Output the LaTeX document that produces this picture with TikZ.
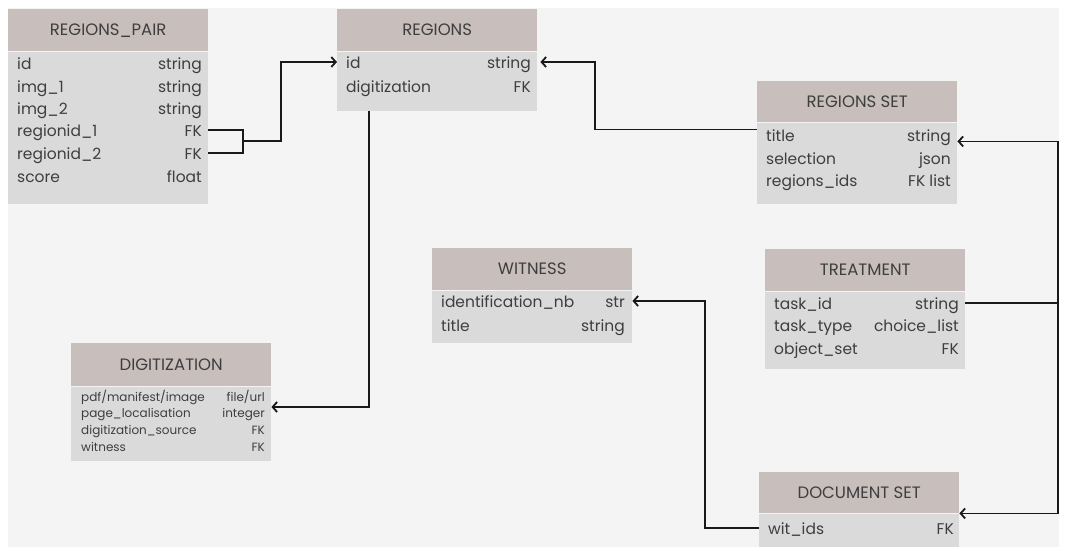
\documentclass[tikz,border=0pt]{standalone}
\usepackage{fontspec}
\setmainfont{Poppins}
\usepackage{xcolor}
\usepackage{tikz}
\usetikzlibrary{positioning,arrows.meta}

\definecolor{hdrgray}{HTML}{C8BEBC}
\definecolor{rowgray}{HTML}{DADADA}
\definecolor{bggray}{HTML}{F4F4F4}
\definecolor{inkgray}{HTML}{3E3E3E}

\begin{document}
\begin{tikzpicture}[x=1pt, y=-1pt, >={Straight Barb[length=4.5pt,width=10pt]}]
    % Define styles
    \tikzstyle{tblhead} = [rectangle, anchor=north west, minimum width=200pt, minimum height=42pt, inner sep=0pt, fill=hdrgray, text=inkgray, font=\fontsize{16.5}{19}\selectfont]
    \tikzstyle{tblbody} = [rectangle, minimum width=200pt, inner sep=0pt, fill=rowgray]
    \tikzstyle{fname} = [anchor=west, inner sep=0pt, text height=15pt, text depth=2pt, text=inkgray, font=\fontsize{15.5}{18}\selectfont]
    \tikzstyle{ftype} = [fname, anchor=east]
    \tikzstyle{small} = [text height=12pt, text depth=2pt, font=\fontsize{12}{14}\selectfont]
    \tikzstyle{link} = [draw=black!90, line width=1.8pt]

    % Background
    \fill[white] (0,0) rectangle (1069,550);
    \fill[bggray] (8,8) rectangle (1059,547);

    % Nodes
    \node[tblhead] (rphead) at (8,9) {REGIONS\_PAIR};
    \node[tblbody, minimum height=152pt, below=0pt of rphead] (rpbody) {};
    \node[fname] (rpn1) at (17,63) {id};           \node[ftype] (rp1) at (202,63) {string};
    \node[fname] (rpn2) at (17,86) {img\_1};       \node[ftype] (rp2) at (202,86) {string};
    \node[fname] (rpn3) at (17,108) {img\_2};      \node[ftype] (rp3) at (202,108) {string};
    \node[fname] (rpn4) at (17,130) {regionid\_1}; \node[ftype] (rp4) at (202,130) {FK};
    \node[fname] (rpn5) at (17,153) {regionid\_2}; \node[ftype] (rp5) at (202,153) {FK};
    \node[fname] (rpn6) at (17,176) {score};       \node[ftype] (rp6) at (202,176) {float};

    \node[tblhead] (reghead) at (337,9) {REGIONS};
    \node[tblbody, minimum height=59pt, below=0pt of reghead] (regbody) {};
    \node[fname] (regn1) at (346,62) {id};           \node[ftype] (reg1) at (531,62) {string};
    \node[fname] (regn2) at (346,86) {digitization}; \node[ftype] (reg2) at (531,86) {FK};

    \node[tblhead, minimum height=41pt] (rshead) at (757,81) {REGIONS SET};
    \node[tblbody, minimum height=81pt, below=0pt of rshead] (rsbody) {};
    \node[fname] (rsn1) at (766,135) {title};        \node[ftype] (rs1) at (951,135) {string};
    \node[fname] (rsn2) at (766,158) {selection};    \node[ftype] (rs2) at (951,158) {json};
    \node[fname] (rsn3) at (766,180) {regions\_ids}; \node[ftype] (rs3) at (951,180) {FK list};

    \node[tblhead] (withead) at (432,248) {WITNESS};
    \node[tblbody, minimum height=52pt, below=0pt of withead] (witbody) {};
    \node[fname] (witn1) at (441,301) {identification\_nb}; \node[ftype] (wit1) at (625,301) {str};
    \node[fname] (witn2) at (441,325) {title};              \node[ftype] (wit2) at (625,325) {string};

    \node[tblhead] (trthead) at (765,249) {TREATMENT};
    \node[tblbody, minimum height=77pt, below=0pt of trthead] (trtbody) {};
    \node[fname] (trtn1) at (774,303) {task\_id};    \node[ftype] (trt1) at (959,303) {string};
    \node[fname] (trtn2) at (774,325) {task\_type};  \node[ftype] (trt2) at (959,325) {choice\_list};
    \node[fname] (trtn3) at (774,348) {object\_set}; \node[ftype] (trt3) at (959,348) {FK};

    \node[tblhead, minimum height=43pt] (dighead) at (71,343) {DIGITIZATION};
    \node[tblbody, minimum height=74pt, below=0pt of dighead] (digbody) {};
    \node[fname, small] (dign1) at (81,396) {pdf/manifest/image};  \node[ftype, small] (dig1) at (265,396) {file/url};
    \node[fname, small] (dign2) at (81,412) {page\_localisation};  \node[ftype, small] (dig2) at (265,412) {integer};
    \node[fname, small] (dign3) at (81,429) {digitization\_source}; \node[ftype, small] (dig3) at (265,429) {FK};
    \node[fname, small] (dign4) at (81,446) {witness};             \node[ftype, small] (dig4) at (265,446) {FK};

    \node[tblhead, minimum height=41pt] (dshead) at (759,472) {DOCUMENT SET};
    \node[tblbody, minimum height=33pt, below=0pt of dshead] (dsbody) {};
    \node[fname] (dsn1) at (768,528) {wit\_ids}; \node[ftype] (ds1) at (954,528) {FK};

    % Bends
    \coordinate (rpjoin) at (243,141);
    \coordinate (rpbend) at (281,0);
    \coordinate (rsbend) at (595,0);
    \coordinate (digbend) at (369,407);
    \coordinate (busx) at (1058,0);
    \coordinate (witbend) at (705,0);

    % Connections
    \draw[link] (rpbody.east |- rp4) -| (rpjoin);
    \draw[link] (rpbody.east |- rp5) -| (rpjoin);
    \draw[link, ->] (rpjoin) -- (rpjoin -| rpbend) |- (regbody.west |- reg1);
    \draw[link, ->] ([yshift=-7pt]rsbody.north west) -| (rsbend |- reg1) -- ([xshift=3pt]regbody.east |- reg1);
    \draw[link, ->] (regbody.south -| digbend) -- (digbend) -- (digbody.east |- digbend);
    \draw[link] (trtbody.east |- trt1) -- (trt1 -| busx);
    \draw[link, <->] ([yshift=-19pt]rsbody.north east) -| (busx |- dsbody.north) -- (dsbody.north east);
    \draw[link, ->] (dsbody.west |- ds1) -| (witbend |- wit1) -- (witbody.east |- wit1);
\end{tikzpicture}
\end{document}
